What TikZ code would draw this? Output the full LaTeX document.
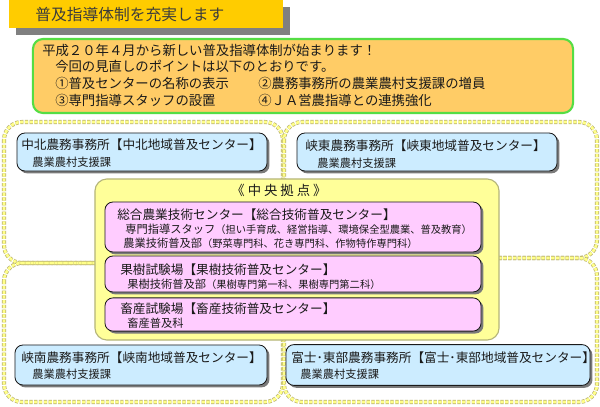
\documentclass[tikz,border=0pt]{standalone}
\usepackage{fontspec}
\setmainfont{Noto Sans CJK JP}
\usepackage{tikz}
\usetikzlibrary{positioning}
\usetikzlibrary{shadows}
\usetikzlibrary{calc}

\definecolor{bannergold}{HTML}{FFCC00}
\definecolor{bannershade}{HTML}{808080}
\definecolor{notefill}{HTML}{FFCC66}
\definecolor{noteedge}{HTML}{55DD44}
\definecolor{bluefill}{HTML}{CCECFF}
\definecolor{pinkfill}{HTML}{FFCCFF}
\definecolor{centerfill}{HTML}{FFFF99}
\definecolor{centeredge}{HTML}{B5B57A}
\definecolor{areafill}{HTML}{FFFF88}
\definecolor{areaedge}{HTML}{B8B070}
\definecolor{boxshade}{HTML}{7A7A7A}
\definecolor{textdark}{HTML}{1A1A1A}

\begin{document}
\begin{tikzpicture}[x=0.025cm,y=-0.025cm]
\tikzstyle{area}=[draw=areaedge, line width=0.5pt, double=areafill, double distance=1.9pt, dash pattern=on 2.3pt off 1.1pt, rounded corners=0.45cm]
\tikzstyle{bluebox}=[draw=textdark, fill=bluefill, line width=0.6pt, rounded corners=0.2cm, drop shadow={shadow xshift=0.06cm, shadow yshift=-0.06cm, fill=boxshade, opacity=1}]
\tikzstyle{pinkbox}=[bluebox, fill=pinkfill]
\tikzstyle{big}=[anchor=west, inner sep=0pt, text=textdark, font=\fontsize{9}{11}\selectfont]
\tikzstyle{small}=[anchor=west, inner sep=0pt, text=textdark, font=\fontsize{8}{10}\selectfont]
\newcommand{\paren}[1]{{\fontsize{7.3}{9}\selectfont #1}}

\useasboundingbox (0,0) rectangle (600,407);
\fill[white] (0,0) rectangle (600,407);

% title
\node[fill=bannergold, minimum width=6.85cm, minimum height=0.7cm, inner sep=0pt,
  drop shadow={shadow xshift=0.175cm, shadow yshift=-0.175cm, fill=bannershade, opacity=1}] (banner) at (146,14) {};
\node[anchor=west, inner sep=0pt, text=textdark!85, font=\fontsize{11.2}{13}\selectfont] (bannertext) at (35,15) {普及指導体制を充実します};

% points of the revision
\node[fill=notefill, draw=noteedge, line width=1.5pt, rounded corners=0.25cm, minimum width=13.5cm, minimum height=1.85cm] (note) at (303,76) {};
\node[big, font=\fontsize{9.5}{11}\selectfont] (note1) at (42,50) {平成２０年４月から新しい普及指導体制が始まります！};
\node[big, font=\fontsize{9.5}{11}\selectfont] (note2) at (55,66) {今回の見直しのポイントは以下のとおりです。};
\node[big, font=\fontsize{9.5}{11}\selectfont] (note3) at (55,83) {①普及センターの名称の表示};
\node[big, font=\fontsize{9.5}{11}\selectfont] (note4) at (258,83) {②農務事務所の農業農村支援課の増員};
\node[big, font=\fontsize{9.5}{11}\selectfont] (note5) at (55,100) {③専門指導スタッフの設置};
\node[big, font=\fontsize{9.5}{11}\selectfont] (note6) at (258,100) {④ＪＡ営農指導との連携強化};

% four areas
\draw[area] (4,122) rectangle (283,263);
\draw[area] (284,122) rectangle (597,258);
\draw[area] (4,263) rectangle (283,402);
\draw[area] (284,258) rectangle (597,402);

% central base
\node[fill=centerfill, draw=centeredge, line width=0.8pt, rounded corners=0.3cm, minimum width=10.1cm, minimum height=4.025cm] (chuo) at (297,259.5) {};
\node[inner sep=0pt, text=textdark, font=\fontsize{9.5}{11}\selectfont] (chuotitle) at (279,190) {《 中 央 拠 点 》};

\node[pinkbox, minimum width=9.4cm, minimum height=1.25cm] (sogo) at (293,227) {};
\node[big] (sogo1) at (117,215) {総合農業技術センター【総合技術普及センター】};
\node[small] (sogo2) at (125,229) {専門指導スタッフ\paren{（担い手育成、経営指導、環境保全型農業、普及教育）}};
\node[small] (sogo3) at (123,243) {農業技術普及部\paren{（野菜専門科、花き専門科、作物特作専門科）}};

\node[pinkbox, minimum width=9.4cm, minimum height=0.9cm] (kaju) at (293,274) {};
\node[big] (kaju1) at (120,270) {果樹試験場【果樹技術普及センター】};
\node[small] (kaju2) at (127,284) {果樹技術普及部\paren{（果樹専門第一科、果樹専門第二科）}};

\node[pinkbox, minimum width=9.4cm, minimum height=0.83cm] (chikusan) at (293,314.5) {};
\node[big] (chikusan1) at (120,309) {畜産試験場【畜産技術普及センター】};
\node[small] (chikusan2) at (127,323) {畜産普及科};

% regional offices
\node[bluebox, minimum width=6.25cm, minimum height=0.95cm] (kita) at (142,152) {};
\node[big] (kita1) at (21,145) {中北農務事務所【中北地域普及センター】};
\node[small] (kita2) at (32,162) {農業農村支援課};

\node[bluebox, minimum width=6.5cm, minimum height=0.95cm] (higashi) at (427,152) {};
\node[big] (higashi1) at (305,146) {峡東農務事務所【峡東地域普及センター】};
\node[small] (higashi2) at (317,163) {農業農村支援課};

\node[bluebox, minimum width=6.3cm, minimum height=1cm] (minami) at (141,365) {};
\node[big] (minami1) at (21,358) {峡南農務事務所【峡南地域普及センター】};
\node[small] (minami2) at (32,374) {農業農村支援課};

\node[bluebox, minimum width=7.6cm, minimum height=1.02cm] (fuji) at (438,365) {};
\node[big] (fuji1) at (291,358) {富士･東部農務事務所【富士･東部地域普及センター】};
\node[small] (fuji2) at (300,374) {農業農村支援課};
\end{tikzpicture}
\end{document}
